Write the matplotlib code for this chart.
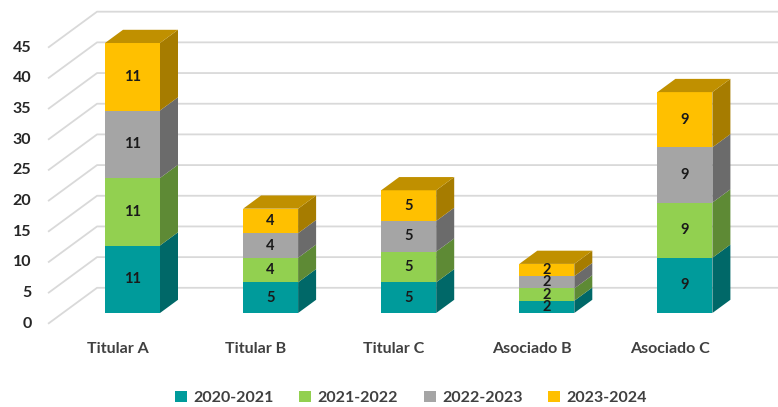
import matplotlib
matplotlib.use("Agg")
import matplotlib.pyplot as plt
from matplotlib.patches import Polygon, Patch

# ---- data ----
categories = ["Titular A", "Titular B", "Titular C", "Asociado B", "Asociado C"]
series_names = ["2020-2021", "2021-2022", "2022-2023", "2023-2024"]
s2020 = [11, 5, 5, 2, 9]
s2021 = [11, 4, 5, 2, 9]
s2022 = [11, 4, 5, 2, 9]
s2023 = [11, 4, 5, 2, 9]
series_values = [s2020, s2021, s2022, s2023]
yticks = [0, 5, 10, 15, 20, 25, 30, 35, 40, 45]

front_colors = ["#009B9B", "#92D050", "#A5A5A5", "#FFC000"]
side_colors = ["#006868", "#5E8A35", "#6B6B6B", "#A67C00"]
top_colors = ["#007A7A", "#76A842", "#878787", "#C09000"]

plt.rcParams['font.family'] = ['Lato', 'DejaVu Sans']

fig = plt.figure(figsize=(7.78, 4.07), dpi=100)
ax = fig.add_axes([0, 0, 1, 1])
ax.set_axis_off()

# scale: px per category unit and per value unit
PX_X = 138.1
PX_Y = 6.136
x0_px, y0_px = 132.5, 313.0  # pixel of category 0 / value 0 (bar front plane)
ax.set_xlim((0 - x0_px) / PX_X, (778 - x0_px) / PX_X)
ax.set_ylim((y0_px - 407) / PX_Y, y0_px / PX_Y)

# depth vector (full depth) in data units
dxD = 49 / PX_X
dyD = 36 / PX_Y
f_depth = 0.3          # bar front plane depth
b_depth = 0.3 + 18 / 49  # bar back depth


def P(x, y, d):
    return (x + (d - f_depth) * dxD, y + (d - f_depth) * dyD)


x_L = -0.505
x_R = 5.0
grid_c = "#D9D9D9"
for v in yticks:
    p0 = P(x_L, v, 0)
    p1 = P(x_L, v, 1)
    p2 = P(x_R, v, 1)
    ax.plot([p0[0], p1[0], p2[0]], [p0[1], p1[1], p2[1]], color=grid_c, lw=1.3,
            solid_capstyle='butt', zorder=1)
    ax.annotate(str(v), xy=p0, xytext=(-12, 0), textcoords='offset points',
                ha='right', va='center', fontsize=11.5, fontweight='bold',
                color='#262626')

# category labels at front floor edge
for i, c in enumerate(categories):
    p = P(i, 0, 0)
    ax.annotate(c, xy=p, xytext=(0, -18), textcoords='offset points',
                ha='center', va='center', fontsize=11.5, fontweight='bold',
                color='#404040')

width = 55 / PX_X
ddx = (b_depth - f_depth) * dxD
ddy = (b_depth - f_depth) * dyD
n = len(categories)
bottoms = [0] * n
for s, vals in enumerate(series_values):
    ax.bar(range(n), vals, bottom=bottoms, width=width, color=front_colors[s],
           zorder=3, linewidth=0)
    for i in range(n):
        xl = i - width / 2
        xr = i + width / 2
        yb = bottoms[i]
        yt = bottoms[i] + vals[i]
        side = Polygon([(xr, yb), (xr, yt), (xr + ddx, yt + ddy), (xr + ddx, yb + ddy)],
                       closed=True, facecolor=side_colors[s], edgecolor='none', zorder=3)
        ax.add_patch(side)
        if s == len(series_values) - 1:
            top = Polygon([(xl, yt), (xr, yt), (xr + ddx, yt + ddy), (xl + ddx, yt + ddy)],
                          closed=True, facecolor=top_colors[s], edgecolor='none', zorder=3)
            ax.add_patch(top)
        ax.text(i, yb + vals[i] / 2, str(vals[i]), ha='center', va='center',
                fontsize=10.5, fontweight='bold', color='#1A1A1A', zorder=5)
    bottoms = [bottoms[i] + vals[i] for i in range(n)]

handles = [Patch(facecolor=front_colors[s], edgecolor='none') for s in range(4)]
leg = fig.legend(handles, series_names, loc='center', bbox_to_anchor=(411 / 778, 1 - 398 / 407),
                 ncol=4, frameon=False, handlelength=0.75, handleheight=0.75,
                 handletextpad=0.4, columnspacing=1.6,
                 prop={'size': 11.5, 'weight': 'bold'})
for t in leg.get_texts():
    t.set_color('#404040')

fig.savefig("out.png", dpi=100)
